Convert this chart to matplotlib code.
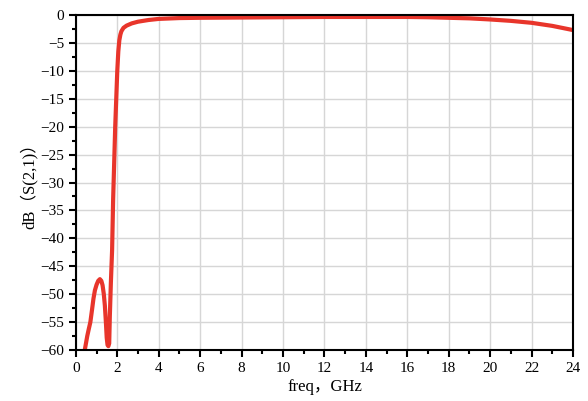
import matplotlib
matplotlib.use('Agg')
import matplotlib.pyplot as plt
from matplotlib.ticker import MultipleLocator

# values
freq = [0.43, 0.55, 0.62, 0.7, 0.78, 0.85, 0.92, 1.0, 1.08, 1.16, 1.23, 1.29, 1.35, 1.4, 1.45,
        1.49, 1.53, 1.57, 1.61, 1.64, 1.69, 1.75,
        1.8, 1.9, 2.0, 2.05, 2.1, 2.15, 2.2, 2.3, 2.45, 2.7, 3.0, 3.5, 4.0, 5.0, 6.0, 8.0, 10.0,
        12.0, 14.0, 16.0, 17.0, 18.0, 19.0, 20.0, 21.0, 22.0, 23.0, 24.0]
s21 = [-60.0, -57.5, -56.3, -55.0, -52.8, -50.8, -49.3, -48.3, -47.6, -47.3, -47.6, -48.4, -50.0, -52.0, -55.0,
       -57.8, -59.1, -59.3, -58.8, -54.0, -48.0, -42.1,
       -33.0, -20.0, -10.0, -6.5, -4.5, -3.5, -2.9, -2.3, -1.9, -1.5, -1.2, -0.9, -0.7, -0.55, -0.5, -0.45, -0.4,
       -0.35, -0.35, -0.35, -0.4, -0.5, -0.6, -0.8, -1.05, -1.4, -1.95, -2.7]

plt.rcParams['font.family'] = ['Liberation Serif', 'Noto Sans CJK SC']

fig = plt.figure(figsize=(5.88, 4.01), dpi=100)
ax = fig.add_axes([0.129, 0.127, 0.8455, 0.8356])

ax.plot(freq, s21, color='#e8352b', lw=3, solid_capstyle='round', solid_joinstyle='round')

ax.set_xlim(0, 24)
ax.set_ylim(-60, 0)
ax.xaxis.set_major_locator(MultipleLocator(2))
ax.xaxis.set_minor_locator(MultipleLocator(1))
ax.yaxis.set_major_locator(MultipleLocator(5))
ax.yaxis.set_minor_locator(MultipleLocator(2.5))
ax.grid(True, which='major', color='#d6d6d6', lw=1)
ax.set_axisbelow(True)
ax.tick_params(which='major', direction='out', length=5, width=1.5, labelsize=11, colors='black')
ax.tick_params(which='minor', direction='out', length=3, width=1.5)
for s in ax.spines.values():
    s.set_linewidth(1.5)

ax.set_xlabel('freq，GHz', fontsize=12, labelpad=3)
ax.set_ylabel('dB（S(2,1)）', fontsize=12, labelpad=2)

fig.savefig('out.png', dpi=100)
